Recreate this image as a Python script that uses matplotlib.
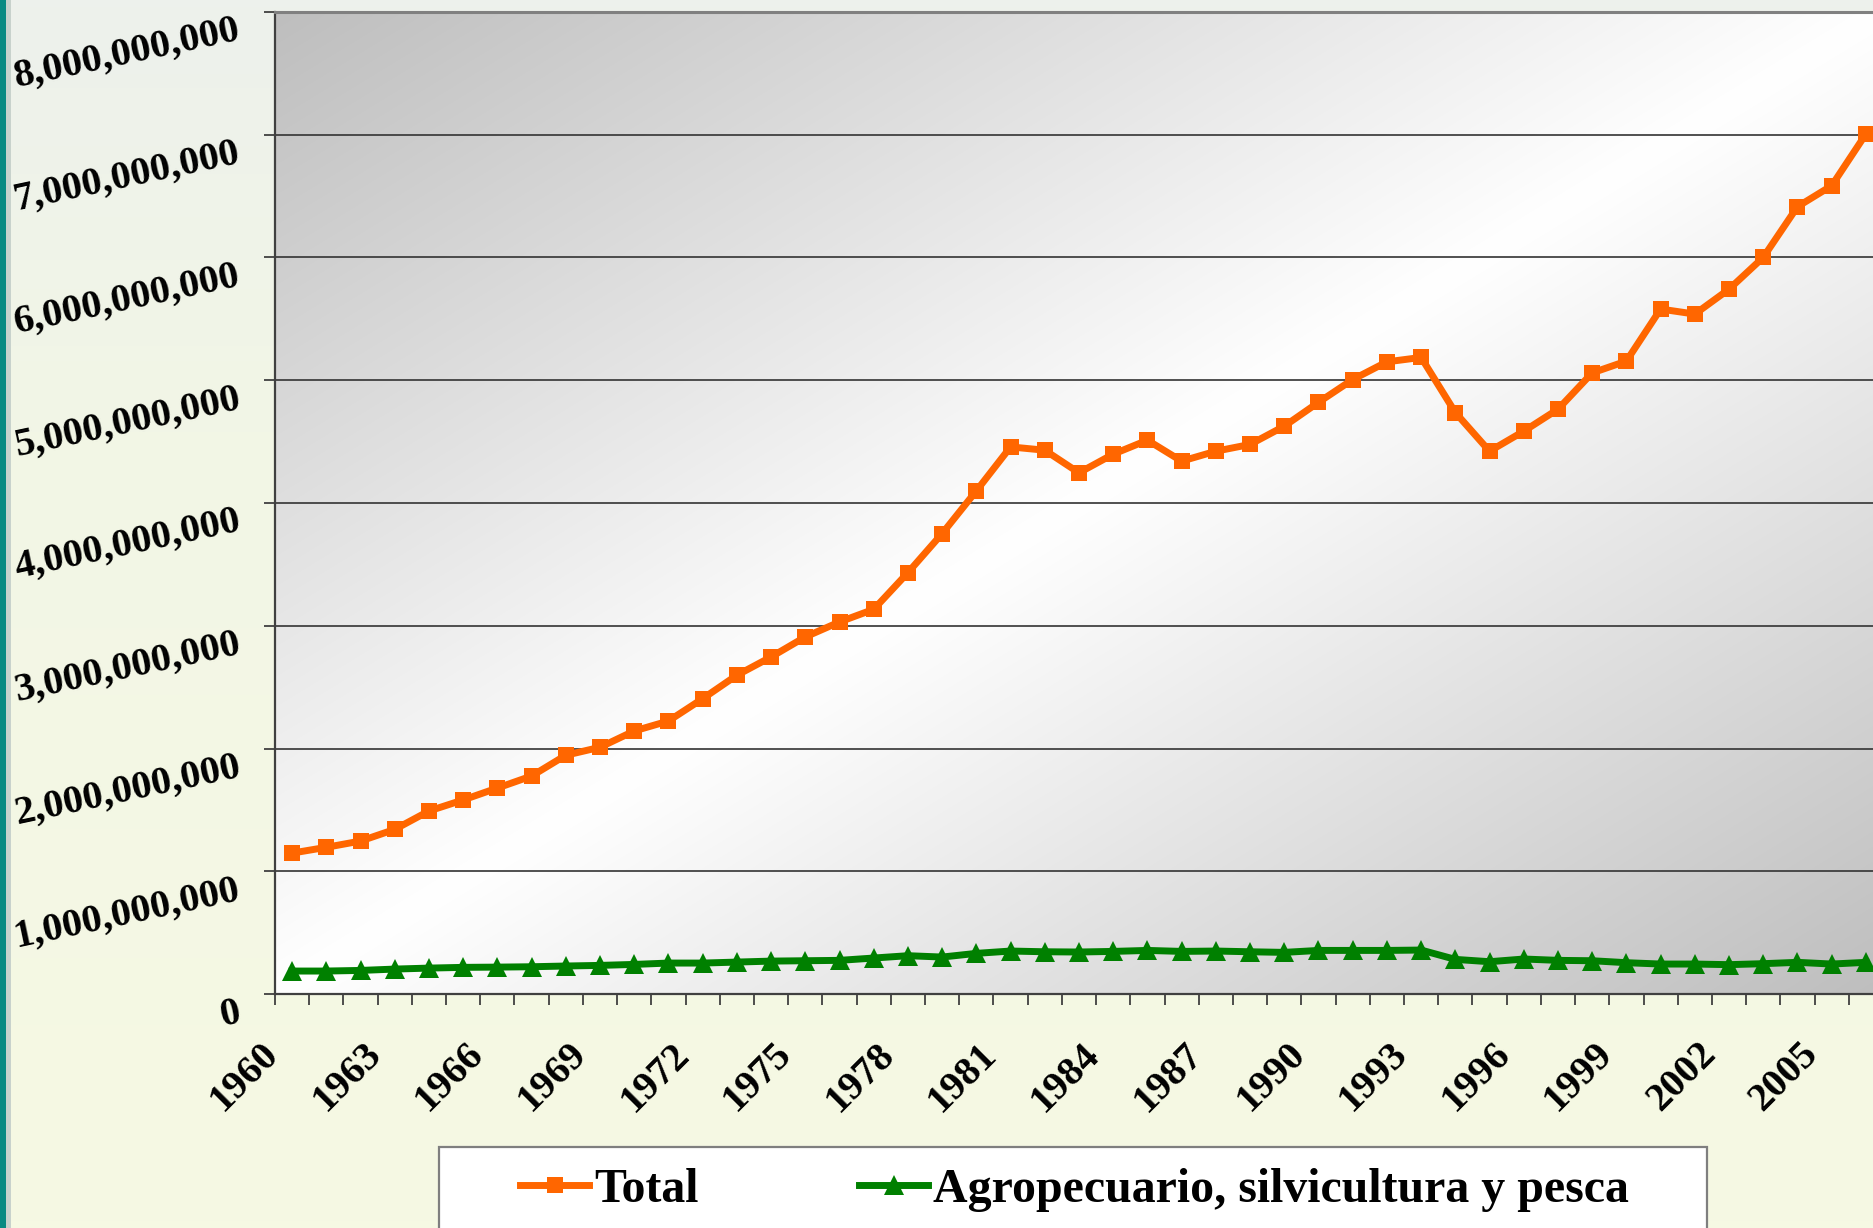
import numpy as np
import matplotlib
matplotlib.use("Agg")
import matplotlib.pyplot as plt
from matplotlib.colors import LinearSegmentedColormap
from matplotlib.patches import Rectangle
from matplotlib.lines import Line2D
from matplotlib.transforms import ScaledTranslation

# ---------------- data ----------------
years = list(range(1960, 2007))
total = [1.148, 1.195, 1.246, 1.341, 1.491, 1.581, 1.678, 1.776, 1.945, 2.010,
         2.143, 2.224, 2.406, 2.597, 2.746, 2.909, 3.031, 3.134, 3.433, 3.751,
         4.099, 4.457, 4.430, 4.246, 4.398, 4.512, 4.341, 4.422, 4.477, 4.626,
         4.820, 5.006, 5.150, 5.186, 4.737, 4.422, 4.585, 4.764, 5.060, 5.156,
         5.580, 5.539, 5.742, 6.001, 6.414, 6.585, 7.006]
agro = [0.187, 0.187, 0.192, 0.203, 0.211, 0.217, 0.219, 0.222, 0.228, 0.233,
        0.241, 0.252, 0.252, 0.260, 0.268, 0.271, 0.274, 0.293, 0.312, 0.301,
        0.331, 0.350, 0.344, 0.342, 0.347, 0.355, 0.347, 0.350, 0.344, 0.339,
        0.355, 0.355, 0.355, 0.358, 0.282, 0.263, 0.285, 0.274, 0.271, 0.255,
        0.244, 0.244, 0.239, 0.247, 0.258, 0.244, 0.258]
total = [v * 1e9 for v in total]
agro = [v * 1e9 for v in agro]
series_names = ["Total", "Agropecuario, silvicultura y pesca"]
y_ticks = [0, 1e9, 2e9, 3e9, 4e9, 5e9, 6e9, 7e9, 8e9]
label_years = list(range(1960, 2007, 3))

# ---------------- figure ----------------
W, H = 1874, 1228
DPI = 100
fig = plt.figure(figsize=(W / DPI, H / DPI), dpi=DPI)
SERIF = ["Liberation Serif", "DejaVu Serif"]

# page background
bg = fig.add_axes([0, 0, 1, 1], zorder=-10)
bg.axis("off")
vgrad = np.linspace(0, 1, 256).reshape(-1, 1)
bg_cmap = LinearSegmentedColormap.from_list(
    "pagebg", [(0.0, "#edf1ec"), (0.35, "#f2f6e6"), (1.0, "#f6f9e3")])
bg.imshow(vgrad, cmap=bg_cmap, aspect="auto", extent=[0, 1, 0, 1],
          origin="upper", interpolation="bilinear")
bg.set_xlim(0, 1)
bg.set_ylim(0, 1)
fig.patches.append(Rectangle((0, 0), 6 / W, 1, transform=fig.transFigure,
                             facecolor="#0a8a82", edgecolor="none", zorder=-5))
fig.patches.append(Rectangle((6 / W, 0), 5 / W, 1, transform=fig.transFigure,
                             facecolor="#c8d2cc", edgecolor="none", zorder=-5))

# plot area geometry (pixels)
L, R, T, B = 275, 1883, 12, 994
pos = [L / W, 1 - B / H, (R - L) / W, (B - T) / H]

# gradient plot-area background
pbg = fig.add_axes(pos, zorder=-1)
pbg.axis("off")
nx, ny = 400, 300
u = np.linspace(0, 1, nx)[None, :]
v = np.linspace(0, 1, ny)[:, None]          # 0 at top
t = (u + v) / 2.0
g = 1 - np.abs(2 * t - 1)
c0 = 0.745
img = c0 + (1 - c0) * g
pbg.imshow(np.dstack([img, img, img]), aspect="auto", extent=[0, 1, 0, 1],
           origin="upper", interpolation="bilinear")
pbg.set_xlim(0, 1)
pbg.set_ylim(0, 1)

ax = fig.add_axes(pos, zorder=1)
ax.set_facecolor("none")

x = np.arange(len(years))
ax.plot(x, total, color="#ff6600", lw=5.0, marker="s", ms=11,
        markeredgewidth=0, solid_joinstyle="miter", zorder=4, clip_on=False)
ax.plot(x, agro, color="#008000", lw=5.0, marker="^", ms=14.5,
        markeredgewidth=0, zorder=4, clip_on=False)

ax.set_xlim(-0.5, len(years) - 0.5)
ax.set_ylim(0, 8e9)

# grid
ax.set_yticks(y_ticks)
ax.yaxis.grid(True, color="#333333", lw=1.2)
ax.set_axisbelow(True)
ax.set_yticklabels([f"{int(v):,}" for v in y_ticks])

bounds = np.arange(len(years) + 1) - 0.5
xlabels = [str(years[i]) if (i < len(years) and years[i] in label_years) else ""
           for i in range(len(bounds))]
ax.set_xticks(bounds)
ax.set_xticklabels(xlabels)

ax.tick_params(axis="both", direction="out", length=8, width=1.3,
               color="#404040")
ax.tick_params(axis="x", pad=22)
ax.tick_params(axis="y", pad=20)

xshift = ScaledTranslation(-15 / DPI, 0, fig.dpi_scale_trans)
for lab in ax.get_xticklabels():
    lab.set_rotation(45)
    lab.set_rotation_mode("anchor")
    lab.set_ha("right")
    lab.set_va("top")
    lab.set_fontfamily(SERIF)
    lab.set_fontweight("bold")
    lab.set_fontsize(29)
    lab.set_transform(lab.get_transform() + xshift)
for lab in ax.get_yticklabels():
    lab.set_rotation(12)
    lab.set_rotation_mode("anchor")
    lab.set_ha("right")
    lab.set_va("top")
    lab.set_fontfamily(SERIF)
    lab.set_fontweight("bold")
    lab.set_fontsize(29)

for s in ["left", "bottom"]:
    ax.spines[s].set_color("#404040")
    ax.spines[s].set_linewidth(1.6)
ax.spines["top"].set_color("#808080")
ax.spines["top"].set_linewidth(2.2)
ax.spines["right"].set_color("#808080")
ax.spines["right"].set_linewidth(2.2)

# legend box
lx0, lx1, ly0 = 439, 1707, 1147
fig.patches.append(Rectangle((lx0 / W, 1 - 1240 / H), (lx1 - lx0) / W, (1240 - ly0) / H,
                             transform=fig.transFigure, facecolor="white",
                             edgecolor="#7f7f7f", linewidth=1.6, zorder=2))
handles = [Line2D([], [], color="#ff6600", lw=5, marker="s", ms=11, markeredgewidth=0),
           Line2D([], [], color="#008000", lw=5, marker="^", ms=14, markeredgewidth=0)]
leg = fig.legend(handles, series_names, loc="center left",
                 bbox_to_anchor=(520 / W, 1 - 1190 / H), bbox_transform=fig.transFigure,
                 ncol=2, frameon=False, borderpad=0, borderaxespad=0,
                 handlelength=1.44, handletextpad=0.1, columnspacing=3.36,
                 prop={"family": SERIF, "weight": "bold", "size": 34.5})
leg.set_zorder(3)

fig.savefig("out.png", dpi=DPI)
